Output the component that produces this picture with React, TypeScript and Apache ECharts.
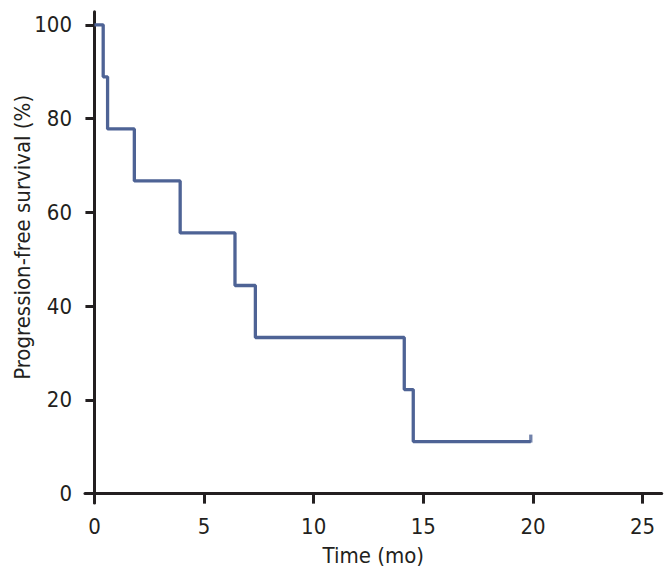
import React, { useEffect, useRef } from "react";
import * as echarts from "echarts";

const times = [0, 0.4, 0.6, 1.82, 3.91, 6.41, 7.34, 14.13, 14.54, 19.9];
const survival = [100, 88.9, 77.8, 66.7, 55.6, 44.4, 33.3, 22.2, 11.1, 11.1];
const censorTimes = [19.9];
const censorSurvival = [11.1];
const xTicks = [0, 5, 10, 15, 20, 25];
const yTicks = [0, 20, 40, 60, 80, 100];

const FONT = '"Liberation Sans Narrow", "DejaVu Sans Condensed", "Roboto", sans-serif';
const INK = "#231f20";
const BLUE = "#4e6395";

export default function App() {
  const ref = useRef<HTMLDivElement>(null);
  useEffect(() => {
    if (!ref.current) return;
    const chart = echarts.init(ref.current, null, { renderer: "svg" });
    chart.setOption({
      animation: false,
      backgroundColor: "#ffffff",
      grid: { left: 85, right: 5.3, top: 11.7, bottom: 74, containLabel: false, outerBoundsMode: "none" },
      xAxis: {
        type: "value",
        min: -0.43,
        max: 25.87,
        name: "Time (mo)",
        nameLocation: "middle",
        nameGap: 41,
        nameMoveOverlap: false,
        nameTextStyle: { fontFamily: FONT, fontSize: 22, color: INK },
        axisLine: { onZero: true, lineStyle: { color: INK, width: 3 } },
        axisTick: { show: true, length: 10, customValues: xTicks, lineStyle: { color: INK, width: 3 } },
        axisLabel: { customValues: xTicks, margin: 12, fontFamily: FONT, fontSize: 22, color: INK },
        splitLine: { show: false },
      },
      yAxis: {
        type: "value",
        min: -2,
        max: 102.8,
        name: "Progression-free survival (%)",
        nameLocation: "middle",
        nameGap: 52,
        nameMoveOverlap: false,
        nameRotate: 90,
        nameTextStyle: { fontFamily: FONT, fontSize: 22, color: INK, padding: [0, 0, 0, 40] },
        axisLine: { onZero: true, lineStyle: { color: INK, width: 3 } },
        axisTick: { show: true, length: 9, customValues: yTicks, lineStyle: { color: INK, width: 3 } },
        axisLabel: { customValues: yTicks, margin: 13, fontFamily: FONT, fontSize: 22, color: INK },
        splitLine: { show: false },
      },
      series: [
        {
          type: "line",
          step: "end",
          data: times.map((t, i) => [t, survival[i]]),
          showSymbol: false,
          symbol: "none",
          lineStyle: { color: BLUE, width: 3.3 },
          z: 3,
        },
        {
          type: "scatter",
          data: censorTimes.map((t, i) => [t, censorSurvival[i]]),
          symbol: "rect",
          symbolSize: [3.3, 8],
          symbolOffset: [0, -3],
          itemStyle: { color: BLUE },
          z: 4,
        },
      ],
    });
    return () => chart.dispose();
  }, []);
  return <div ref={ref} style={{ width: 667, height: 577, position: "absolute", left: 0, top: 0 }} />;
}
